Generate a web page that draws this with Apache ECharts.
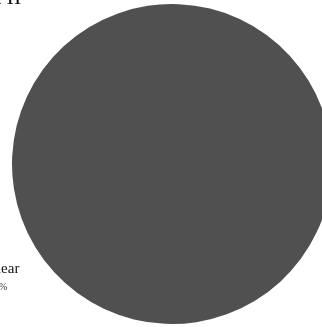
<!DOCTYPE html>
<html>
<head>
<meta charset="utf-8">
<script src="https://cdn.jsdelivr.net/npm/echarts@6/dist/echarts.min.js"></script>
<style>
  html, body { margin: 0; padding: 0; background: #fff; }
  #main { width: 322px; height: 327px; }
</style>
</head>
<body>
<div id="main"></div>
<script>
  // pie data
  const categories = ['Nuclear'];
  const values = [100];
  const sliceColors = ['#505050'];

  const chart = echarts.init(document.getElementById('main'));
  const option = {
    animation: false,
    title: {
      text: 'Unit II',
      left: -43,
      top: -18,
      textStyle: {
        fontFamily: 'Liberation Serif',
        fontSize: 22,
        fontWeight: 'normal',
        color: '#111'
      }
    },
    series: [
      {
        type: 'pie',
        center: [172, 164],
        radius: 160,
        startAngle: 42.5,
        data: categories.map((name, i) => ({
          name: name,
          value: values[i],
          itemStyle: { color: sliceColors[i] }
        })),
        label: {
          show: true,
          position: 'outside',
          width: 52,
          overflow: 'none',
          formatter: '{a|{b}}\n{b|{d}%}',
          rich: {
            a: { fontFamily: 'Liberation Serif', fontSize: 15, color: '#111', width: 52, align: 'center', lineHeight: 18 },
            b: { fontFamily: 'Liberation Serif', fontSize: 10, color: '#333', width: 52, align: 'center', lineHeight: 19 }
          }
        },
        labelLine: { show: false, length: 10, length2: 20 }
      }
    ]
  };
  chart.setOption(option);
</script>
</body>
</html>
